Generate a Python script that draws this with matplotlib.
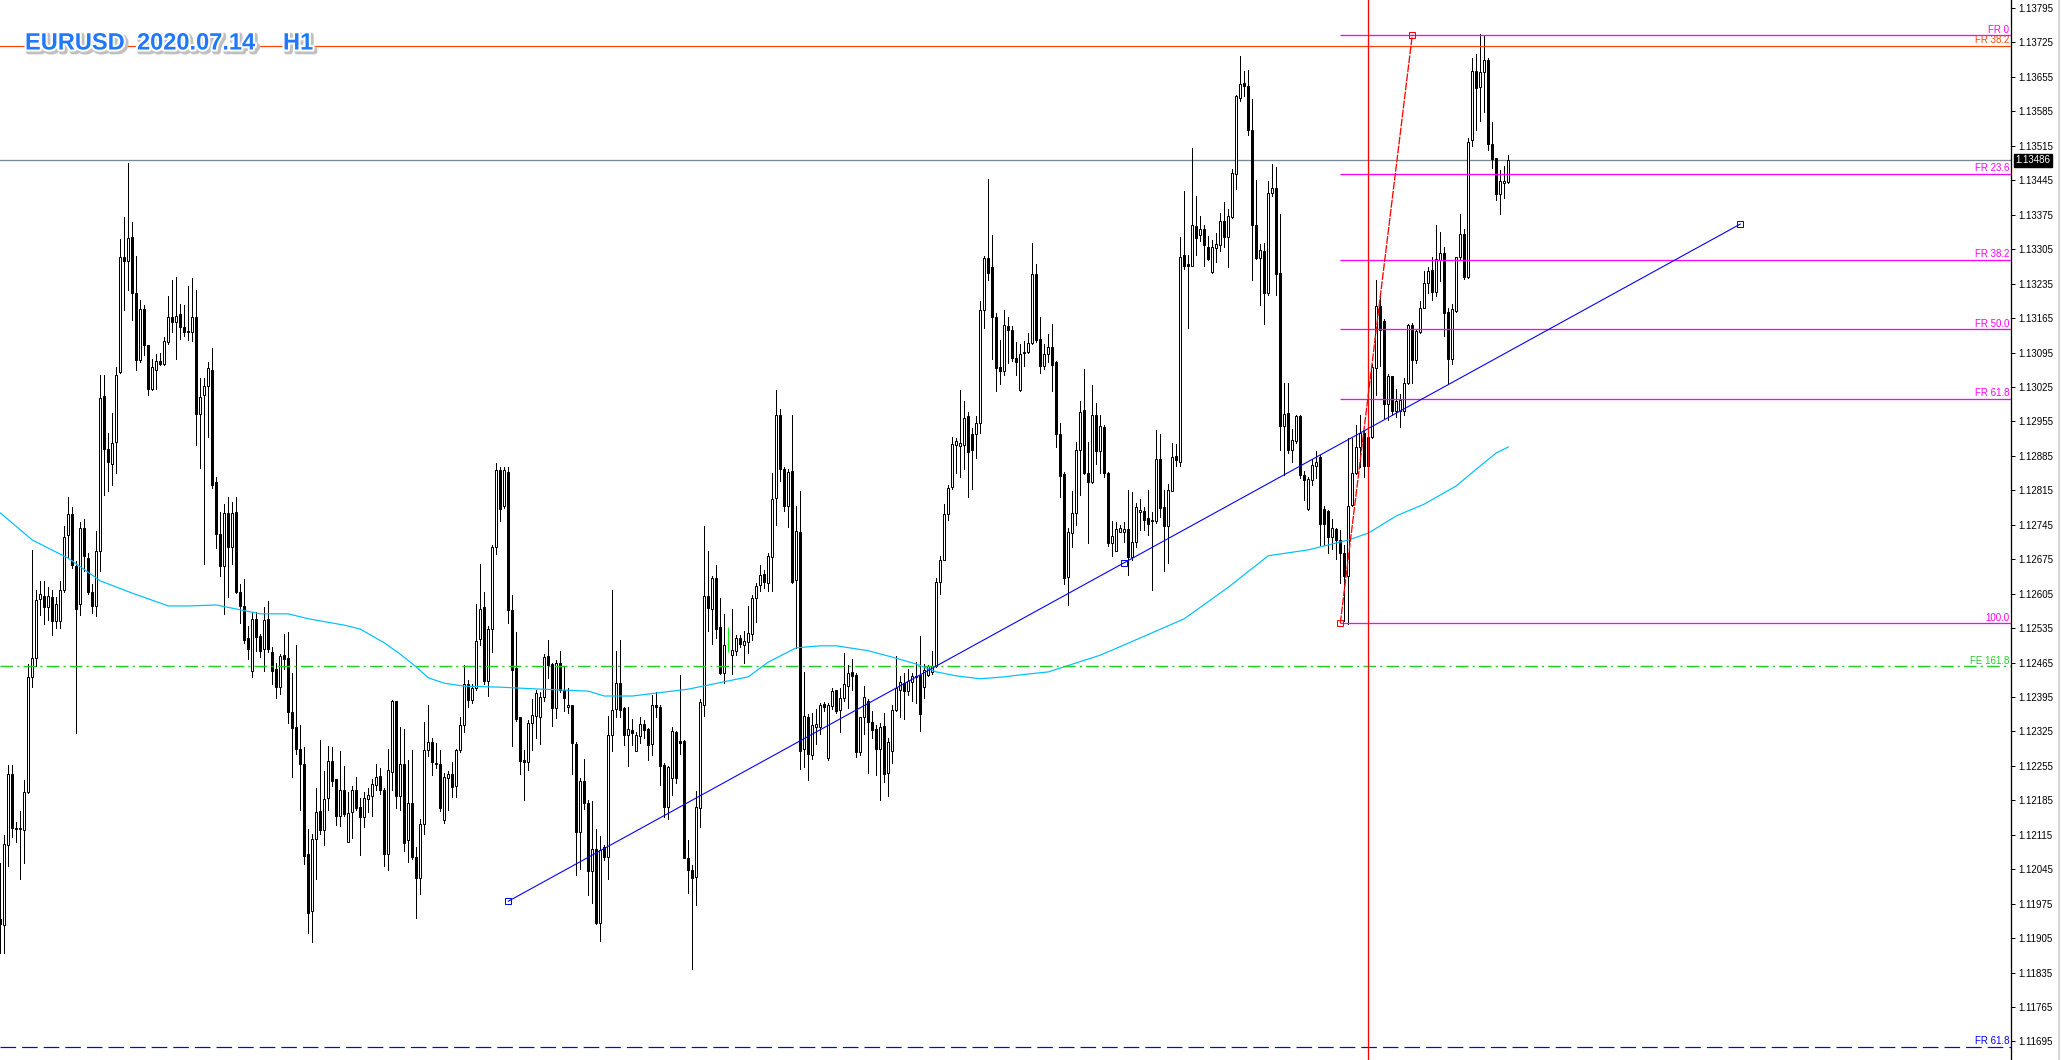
import matplotlib
matplotlib.use("Agg")
import matplotlib.pyplot as plt
import matplotlib.patheffects as pe
from matplotlib.lines import Line2D
import numpy as np

# EURUSD H1 candles, prices in points above 1.10000 (1 point = 0.00001)
open_pts = [
    1944, 1932, 2094, 2238, 2128, 2128, 2125, 2201, 2436, 2475,
    2595, 2601, 2577, 2598, 2549, 2549, 2612, 2724, 2766, 2661,
    2583, 2738, 2677, 2609, 2579, 2691, 3006, 2898, 2868, 2913,
    3055, 3289, 3281, 3330, 3216, 3079, 3183, 3110, 3021, 3060,
    3078, 3072, 3116, 3168, 3158, 3173, 3146, 3139, 3137, 3168,
    2971, 3008, 3026, 3060, 2831, 2727, 2661, 2768, 2700, 2771,
    2609, 2579, 2514, 2448, 2553, 2518, 2492, 2554, 2487, 2452,
    2415, 2480, 2474, 2364, 2335, 2289, 2258, 2075, 1961, 2107,
    2163, 2124, 2190, 2265, 2228, 2153, 2206, 2100, 2161, 2206,
    2172, 2151, 2188, 2194, 2216, 2234, 2207, 2075, 2243, 2386,
    2194, 2258, 2104, 2179, 2069, 2028, 2137, 2287, 2304, 2260,
    2258, 2146, 2230, 2238, 2214, 2287, 2339, 2421, 2389, 2413,
    2512, 2577, 2428, 2533, 2699, 2857, 2783, 2853, 2572, 2454,
    2354, 2266, 2263, 2343, 2356, 2354, 2396, 2479, 2462, 2372,
    2465, 2410, 2374, 2378, 2300, 2121, 2224, 2179, 2042, 2086,
    1936, 2090, 2070, 2317, 2370, 2424, 2372, 2317, 2327, 2286,
    2316, 2340, 2330, 2300, 2378, 2374, 2257, 2172, 2231, 2323,
    2306, 2306, 2068, 2043, 2029, 2169, 2379, 2600, 2574, 2636,
    2537, 2444, 2502, 2480, 2488, 2514, 2501, 2506, 2524, 2597,
    2623, 2644, 2626, 2680, 2800, 2968, 2859, 2783, 2855, 2632,
    2730, 2289, 2354, 2278, 2334, 2334, 2381, 2272, 2376, 2410,
    2368, 2393, 2418, 2446, 2440, 2284, 2354, 2387, 2345, 2331,
    2289, 2337, 2240, 2286, 2368, 2410, 2424, 2408, 2425, 2438,
    2440, 2415, 2440, 2446, 2457, 2629, 2674, 2766, 2821, 2907,
    2905, 2907, 2966, 2930, 2930, 2951, 3181, 3288, 3269, 3168,
    3065, 3057, 3149, 3141, 3083, 3019, 3094, 3097, 3115, 3255,
    3122, 3067, 3092, 3107, 3076, 2929, 2849, 2638, 2728, 2769,
    2897, 2978, 2850, 2831, 2969, 2894, 2944, 2850, 2707, 2692,
    2731, 2731, 2737, 2679, 2709, 2771, 2773, 2758, 2752, 2752,
    2879, 2781, 2743, 2814, 2884, 2873, 3294, 3275, 3271, 3352,
    3333, 3345, 3309, 3258, 3307, 3313, 3363, 3330, 3370, 3458,
    3613, 3643, 3636, 3548, 3355, 3288, 3301, 3215, 3420, 3429,
    3257, 2945, 2972, 2897, 2915, 2966, 2846, 2777, 2835, 2865,
    2883, 2777, 2773, 2720, 2736, 2715, 2687, 2640, 2785, 2851,
    2903, 2932, 2865, 2924, 3064, 3189, 3160, 2990, 3048, 2977,
    2977, 2976, 3034, 3151, 3079, 3136, 3186, 3237, 3263, 3218,
    3282, 3298, 3178, 3082, 3180, 3289, 3336, 3249, 3526, 3668,
    3634, 3666, 3689, 3518, 3490, 3417, 3440, 3442,
]
high_pts = [
    2058, 2115, 2257, 2257, 2142, 2163, 2226, 2462, 2693, 2612,
    2630, 2630, 2619, 2612, 2598, 2630, 2742, 2801, 2782, 2672,
    2751, 2756, 2688, 2625, 2732, 3050, 3050, 2931, 2973, 3065,
    3326, 3370, 3480, 3360, 3291, 3202, 3192, 3110, 3081, 3092,
    3095, 3126, 3210, 3242, 3249, 3194, 3191, 3230, 3246, 3223,
    3044, 3044, 3076, 3105, 2843, 2771, 2787, 2801, 2792, 2801,
    2625, 2635, 2540, 2567, 2567, 2524, 2577, 2591, 2496, 2465,
    2483, 2524, 2527, 2443, 2501, 2339, 2294, 2126, 2117, 2210,
    2307, 2245, 2295, 2294, 2228, 2285, 2254, 2201, 2214, 2232,
    2190, 2201, 2210, 2228, 2258, 2250, 2210, 2289, 2388, 2386,
    2335, 2329, 2267, 2287, 2091, 2148, 2345, 2379, 2311, 2302,
    2287, 2241, 2245, 2263, 2289, 2355, 2461, 2430, 2421, 2584,
    2665, 2609, 2540, 2703, 2871, 2862, 2862, 2862, 2602, 2527,
    2354, 2288, 2348, 2390, 2410, 2405, 2483, 2510, 2465, 2471,
    2488, 2457, 2413, 2379, 2304, 2230, 2270, 2185, 2183, 2127,
    2113, 2094, 2356, 2613, 2488, 2510, 2374, 2374, 2351, 2323,
    2354, 2348, 2333, 2400, 2405, 2378, 2261, 2255, 2335, 2325,
    2440, 2308, 2105, 2053, 2203, 2390, 2742, 2691, 2641, 2663,
    2596, 2563, 2537, 2574, 2522, 2522, 2530, 2580, 2603, 2627,
    2663, 2653, 2688, 2850, 3019, 2981, 2863, 2859, 2968, 2783,
    2813, 2446, 2360, 2362, 2371, 2383, 2385, 2383, 2413, 2410,
    2413, 2484, 2461, 2472, 2444, 2354, 2417, 2390, 2366, 2339,
    2343, 2362, 2312, 2379, 2478, 2438, 2444, 2452, 2444, 2466,
    2518, 2463, 2461, 2488, 2636, 2682, 2787, 2825, 2924, 2922,
    3019, 2996, 2974, 2941, 2966, 3200, 3292, 3448, 3333, 3175,
    3120, 3181, 3168, 3149, 3117, 3113, 3119, 3134, 3318, 3275,
    3168, 3113, 3132, 3152, 3077, 2952, 2852, 2739, 2814, 2914,
    2997, 3062, 2914, 3029, 2993, 2969, 2948, 2852, 2752, 2751,
    2745, 2751, 2816, 2811, 2790, 2798, 2781, 2816, 2771, 2937,
    2929, 2816, 2828, 2912, 2910, 3330, 3423, 3294, 3510, 3414,
    3373, 3355, 3331, 3324, 3337, 3378, 3401, 3386, 3467, 3619,
    3698, 3668, 3670, 3610, 3446, 3316, 3318, 3444, 3478, 3471,
    3377, 3034, 3034, 2940, 2968, 2968, 2855, 2843, 2879, 2895,
    2887, 2783, 2775, 2757, 2739, 2735, 2703, 2921, 2921, 2948,
    2968, 2936, 2928, 3072, 3242, 3209, 3164, 3052, 3048, 3020,
    3010, 3044, 3152, 3154, 3143, 3199, 3261, 3269, 3289, 3355,
    3339, 3309, 3186, 3194, 3290, 3376, 3345, 3530, 3694, 3702,
    3743, 3739, 3694, 3564, 3491, 3466, 3475, 3496,
]
low_pts = [
    1874, 1874, 2052, 2110, 2100, 2026, 2058, 2199, 2415, 2457,
    2562, 2543, 2551, 2520, 2535, 2535, 2609, 2677, 2658, 2322,
    2562, 2651, 2604, 2565, 2559, 2651, 2805, 2814, 2826, 2850,
    3053, 3181, 3223, 3162, 3060, 3076, 3089, 3008, 3018, 3021,
    3069, 3069, 3113, 3137, 3081, 3123, 3128, 3120, 3118, 2908,
    2861, 2666, 2924, 2819, 2698, 2640, 2564, 2598, 2666, 2606,
    2546, 2504, 2472, 2435, 2488, 2477, 2448, 2487, 2421, 2392,
    2401, 2452, 2342, 2232, 2280, 2166, 2056, 1915, 1897, 2025,
    2117, 2095, 2166, 2214, 2135, 2132, 2153, 2100, 2109, 2166,
    2073, 2131, 2162, 2153, 2206, 2197, 2051, 2043, 2206, 2170,
    2166, 2082, 2060, 2065, 1946, 1994, 2117, 2276, 2236, 2250,
    2163, 2139, 2166, 2192, 2192, 2283, 2324, 2375, 2382, 2410,
    2501, 2421, 2398, 2487, 2686, 2752, 2780, 2545, 2296, 2347,
    2239, 2186, 2247, 2288, 2312, 2300, 2387, 2434, 2337, 2353,
    2405, 2366, 2362, 2239, 2034, 2045, 2168, 1993, 1977, 1934,
    1899, 2063, 2026, 2286, 2354, 2354, 2298, 2255, 2298, 2286,
    2302, 2312, 2267, 2278, 2354, 2216, 2152, 2148, 2195, 2221,
    2280, 2067, 1997, 1842, 1973, 2130, 2356, 2530, 2502, 2514,
    2442, 2424, 2487, 2442, 2480, 2496, 2465, 2485, 2510, 2547,
    2610, 2617, 2610, 2610, 2745, 2834, 2772, 2741, 2627, 2494,
    2248, 2253, 2227, 2270, 2299, 2320, 2366, 2267, 2371, 2362,
    2324, 2387, 2373, 2410, 2274, 2278, 2320, 2240, 2312, 2236,
    2185, 2223, 2194, 2261, 2366, 2354, 2350, 2400, 2387, 2383,
    2326, 2393, 2438, 2442, 2455, 2604, 2674, 2754, 2817, 2850,
    2842, 2859, 2802, 2817, 2880, 2932, 3145, 3242, 3082, 3016,
    3032, 3050, 3074, 3078, 3049, 3016, 3068, 3094, 3112, 3117,
    3053, 3061, 3076, 3016, 2904, 2801, 2625, 2581, 2700, 2745,
    2805, 2849, 2707, 2829, 2869, 2850, 2843, 2701, 2681, 2692,
    2730, 2709, 2643, 2673, 2700, 2734, 2734, 2724, 2613, 2749,
    2760, 2651, 2668, 2813, 2865, 2865, 3264, 3145, 3270, 3294,
    3322, 3270, 3283, 3256, 3279, 3301, 3309, 3268, 3369, 3428,
    3606, 3617, 3536, 3243, 3286, 3192, 3152, 3211, 3414, 3211,
    2897, 2847, 2891, 2873, 2911, 2839, 2795, 2775, 2825, 2839,
    2703, 2703, 2687, 2695, 2675, 2626, 2550, 2544, 2783, 2849,
    2863, 2843, 2859, 2921, 3008, 3068, 2961, 2958, 2968, 2964,
    2944, 2968, 3032, 3034, 3074, 3135, 3185, 3215, 3202, 3209,
    3241, 3128, 3032, 3072, 3178, 3285, 3245, 3247, 3514, 3547,
    3566, 3584, 3506, 3470, 3405, 3377, 3408, 3440,
]
close_pts = [
    1934, 2097, 2239, 2128, 2126, 2127, 2201, 2436, 2475, 2593,
    2604, 2577, 2601, 2549, 2583, 2612, 2721, 2766, 2663, 2574,
    2738, 2682, 2609, 2579, 2691, 3003, 2898, 2873, 2911, 3050,
    3289, 3281, 3328, 3216, 3079, 3183, 3110, 3021, 3065, 3078,
    3072, 3118, 3167, 3158, 3170, 3146, 3137, 3137, 3168, 2971,
    3005, 3026, 3063, 2826, 2727, 2661, 2768, 2700, 2768, 2609,
    2579, 2511, 2493, 2553, 2517, 2489, 2551, 2492, 2448, 2415,
    2479, 2473, 2364, 2333, 2289, 2258, 2072, 1956, 2106, 2162,
    2124, 2188, 2265, 2225, 2153, 2206, 2157, 2160, 2206, 2170,
    2151, 2190, 2195, 2219, 2232, 2206, 2075, 2247, 2386, 2194,
    2258, 2098, 2179, 2069, 2028, 2137, 2287, 2304, 2263, 2259,
    2170, 2232, 2238, 2213, 2287, 2339, 2421, 2389, 2413, 2509,
    2574, 2428, 2533, 2699, 2856, 2778, 2856, 2571, 2449, 2351,
    2265, 2263, 2343, 2358, 2403, 2396, 2477, 2460, 2372, 2465,
    2410, 2392, 2378, 2302, 2121, 2224, 2179, 2042, 2086, 1936,
    2084, 2070, 2317, 2368, 2423, 2368, 2317, 2330, 2322, 2317,
    2340, 2327, 2298, 2378, 2374, 2255, 2172, 2253, 2325, 2230,
    2302, 2068, 2043, 2028, 2172, 2384, 2600, 2576, 2636, 2533,
    2444, 2501, 2502, 2491, 2514, 2502, 2508, 2526, 2597, 2620,
    2642, 2629, 2682, 2797, 2968, 2859, 2783, 2853, 2629, 2733,
    2286, 2356, 2280, 2339, 2341, 2379, 2375, 2379, 2408, 2366,
    2393, 2421, 2444, 2438, 2284, 2354, 2396, 2345, 2328, 2289,
    2334, 2238, 2303, 2368, 2413, 2425, 2408, 2427, 2438, 2435,
    2360, 2449, 2457, 2459, 2629, 2674, 2766, 2819, 2909, 2915,
    2912, 2962, 2893, 2897, 2951, 3181, 3288, 3257, 3168, 3064,
    3058, 3151, 3141, 3084, 3076, 3091, 3097, 3115, 3255, 3121,
    3067, 3092, 3107, 3070, 2929, 2844, 2636, 2730, 2769, 2897,
    2974, 2850, 2831, 2969, 2894, 2946, 2850, 2707, 2722, 2737,
    2739, 2737, 2679, 2709, 2781, 2775, 2754, 2746, 2754, 2879,
    2779, 2743, 2816, 2882, 2876, 3290, 3270, 3270, 3354, 3328,
    3345, 3313, 3286, 3309, 3315, 3363, 3330, 3373, 3459, 3616,
    3641, 3636, 3548, 3355, 3288, 3303, 3215, 3420, 3429, 3255,
    2945, 2970, 2897, 2918, 2966, 2846, 2835, 2838, 2867, 2873,
    2747, 2747, 2720, 2739, 2715, 2687, 2640, 2783, 2851, 2903,
    2932, 2865, 2924, 3066, 3189, 3140, 2990, 3048, 2977, 2996,
    2998, 3034, 3151, 3079, 3138, 3186, 3237, 3261, 3218, 3285,
    3298, 3175, 3082, 3183, 3289, 3336, 3249, 3523, 3668, 3633,
    3666, 3689, 3518, 3488, 3417, 3443, 3443, 3486,
]

# moving average readings (bar index, points)
ma_idx = [0, 8, 17, 25, 33, 42, 47, 54, 65, 72, 77, 86, 90, 96, 100, 104,
          107, 111, 116, 125, 135, 147, 151, 158, 164, 172, 178, 187, 192,
          199, 205, 209, 217, 223, 229, 234, 239, 245, 251, 255, 262, 275,
          285, 296, 307, 317, 327, 337, 342, 349, 356, 364, 369, 374, 377]
ma_pts = [2769, 2714, 2677, 2631, 2606, 2580, 2580, 2582, 2564, 2564, 2554,
          2541, 2533, 2505, 2482, 2456, 2434, 2423, 2417, 2415, 2411, 2407,
          2397, 2397, 2403, 2411, 2421, 2436, 2466, 2495, 2499, 2499, 2489,
          2476, 2462, 2446, 2438, 2432, 2436, 2440, 2446, 2480, 2515, 2554,
          2618, 2682, 2694, 2714, 2728, 2763, 2787, 2824, 2858, 2891, 2903]

symbol = "EURUSD"
date_label = "2020.07.14"
timeframe = "H1"
bid = 1.13486

fib_high = 1.13740
fib_low = 1.12545
fib_ratios = [0.0, 0.236, 0.382, 0.5, 0.618, 1.0]
fib_labels = ["FR 0", "FR 23.6", "FR 38.2", "FR 50.0", "FR 61.8", "100.0"]
fib_anchor_idx = [335, 353]

orange_level = 1.13718
fe_level = 1.12458
blue_fr_level = 1.11684
trend_idx = [127, 435]
trend_price = [1.11980, 1.13356]
vline_idx = 342

price_ticks = [round(1.13795 - 0.0007 * k, 5) for k in range(31)]

W, H = 2061, 1060
AX_W = 2011
PX = 0.72  # one pixel in points at 100 dpi


def to_price(pts):
    return 1.1 + np.asarray(pts, dtype=float) * 1e-5


def draw_candles(ax, o, h, l, c):
    idx = np.arange(len(o))
    doji = o == c
    ax.vlines(idx[~doji], l[~doji], h[~doji], color="black", lw=PX,
              zorder=2, antialiased=False)
    bull = c > o
    bear = c < o
    ax.bar(idx[bull], (c - o)[bull], bottom=o[bull], width=0.5,
           facecolor="white", edgecolor="black", lw=PX, zorder=3)
    ax.bar(idx[bear], (o - c)[bear], bottom=c[bear], width=0.5,
           facecolor="black", edgecolor="black", lw=PX, zorder=3)
    ax.vlines(idx[doji], l[doji], h[doji], color="#00ff00", lw=PX, zorder=3)
    ax.hlines(o[doji], idx[doji] - 0.3, idx[doji] + 0.3, color="#00ff00",
              lw=PX, zorder=3)


def main():
    o = to_price(open_pts)
    h = to_price(high_pts)
    l = to_price(low_pts)
    c = to_price(close_pts)

    fig = plt.figure(figsize=(W / 100, H / 100), dpi=100, facecolor="white")
    ax = fig.add_axes([0, 0, AX_W / W, 1])
    x0 = -0.075
    x1 = x0 + AX_W / 4
    ax.set_xlim(x0, x1)
    ax.set_ylim(1.116574, 1.138113)

    ax.axhline(bid, color="#778899", lw=PX * 1.3, zorder=1)
    draw_candles(ax, o, h, l, c)
    ax.plot(ma_idx, to_price(ma_pts), color="#00bfff", lw=PX * 1.2, zorder=4)

    # full-width levels
    ax.axhline(orange_level, color="#ff4500", lw=PX * 1.2, zorder=5)
    ax.axhline(fe_level, color="#22cc22", lw=PX * 1.4, zorder=5,
               dashes=(9, 3, 1.5, 3))
    ax.axhline(blue_fr_level, color="#0000ff", lw=PX * 1.2, zorder=5,
               dashes=(13, 5))

    # fibonacci retracement
    rng = fib_high - fib_low
    fib_levels = [fib_high - r * rng for r in fib_ratios]
    for lev in fib_levels:
        ax.hlines(lev, fib_anchor_idx[0], x1, color="#ff00ff", lw=PX * 1.3,
                  zorder=5)
    ax.plot(fib_anchor_idx, [fib_low, fib_high], color="#ff0000",
            lw=PX * 1.3, dashes=(6, 1), zorder=6)
    ax.plot(fib_anchor_idx, [fib_low, fib_high], ls="none", marker="s",
            ms=5, mfc="none", mec="#ff0000", mew=PX, zorder=7)

    # trendline with its anchor squares
    ax.plot(trend_idx, trend_price, color="#0000ff", lw=PX * 1.1, zorder=6)
    mid = [sum(trend_idx) / 2, sum(trend_price) / 2]
    ax.plot([trend_idx[0], mid[0], trend_idx[1]],
            [trend_price[0], mid[1], trend_price[1]], ls="none", marker="s",
            ms=4, mfc="none", mec="#0000ff", mew=PX, zorder=7)

    ax.axvline(vline_idx, color="#ff0000", lw=PX * 1.3, zorder=6)

    # object labels at the right edge
    lx = x1 - 0.4
    lab = dict(ha="right", va="bottom", fontsize=7, family="Liberation Sans",
               zorder=8)
    for lev, txt in zip(fib_levels, fib_labels):
        ax.text(lx, lev + 1e-5, txt, color="#ff00ff", **lab)
    ax.text(lx, orange_level + 1e-5, "FR 38.2", color="#ff4500", **lab)
    ax.text(lx, fe_level + 1e-5, "FE 161.8", color="#22cc22", **lab)
    ax.text(lx, blue_fr_level + 1e-5, "FR 61.8", color="#0000ff", **lab)

    # price scale on the right
    for side in ["left", "top", "bottom"]:
        ax.spines[side].set_visible(False)
    ax.spines["right"].set_linewidth(PX * 1.3)
    ax.set_xticks([])
    ax.yaxis.tick_right()
    ax.set_yticks(price_ticks)
    ax.set_yticklabels([f"{p:.5f}" for p in price_ticks], fontsize=7,
                       family="Liberation Sans")
    ax.tick_params(axis="y", length=3, width=PX, pad=2, colors="black")
    ax.annotate(f"{bid:.5f}", xy=(1, bid), xycoords=("axes fraction", "data"),
                xytext=(3.2, 0), textcoords="offset points", ha="left",
                va="center", fontsize=7, family="Liberation Sans",
                color="white", zorder=10,
                bbox=dict(boxstyle="square,pad=0.15", fc="black", ec="black"),
                annotation_clip=False)

    fig.add_artist(Line2D([2058.5 / W] * 2, [0, 1], color="#c8c8c8",
                          lw=PX * 1.5))

    # chart title with halo and soft shadow
    effects = [pe.Stroke(linewidth=4, foreground="#c0c0c0", offset=(1.5, -1.5)),
               pe.Stroke(linewidth=3, foreground="white"), pe.Normal()]
    ty = 1 - 43 / H
    for txt, px in [(symbol, 25), (date_label, 137), (timeframe, 283)]:
        ax.text(px / AX_W, ty, txt, transform=ax.transAxes, ha="left",
                va="center", fontsize=17, fontweight="bold",
                family="Liberation Sans", color="#1f78ff",
                path_effects=effects, zorder=9)

    fig.savefig("out.png", dpi=100, facecolor="white")


if __name__ == "__main__":
    main()
